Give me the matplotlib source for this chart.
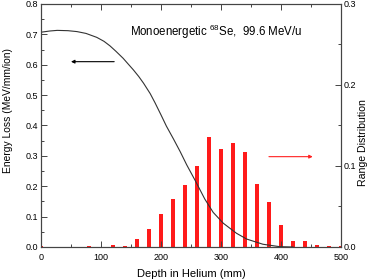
import matplotlib
matplotlib.use("Agg")
import matplotlib.pyplot as plt
from matplotlib.ticker import MultipleLocator

plt.rcParams['font.family'] = ['Liberation Sans', 'DejaVu Sans']
plt.rcParams['mathtext.default'] = 'regular'

# energy loss curve (left axis)
depth_curve = [0, 15, 27, 45, 60, 75, 93, 105, 115, 125, 137, 145, 154, 163, 171,
               182, 190, 200, 209, 221, 232, 243, 257, 273, 287, 304, 326, 343,
               370, 398, 420]
eloss = [0.707, 0.711, 0.713, 0.712, 0.709, 0.703, 0.690, 0.677, 0.662, 0.644,
         0.621, 0.603, 0.583, 0.561, 0.539, 0.505, 0.475, 0.435, 0.398, 0.355,
         0.314, 0.270, 0.219, 0.158, 0.114, 0.078, 0.045, 0.026, 0.009, 0.001, 0.0]

# range distribution bars (right axis)
depth_bins = [0, 80, 120, 140, 160, 180, 200, 220, 240, 260, 280, 300, 320, 340,
              360, 380, 400, 420, 440, 460, 480, 500]
range_dist = [0.0015, 0.001, 0.003, 0.001, 0.0103, 0.0222, 0.0403, 0.0597, 0.0770,
              0.1004, 0.1354, 0.1206, 0.1288, 0.1169, 0.0776, 0.0553, 0.0274,
              0.008, 0.008, 0.002, 0.001, 0.0015]

axcol = '#444444'
fig = plt.figure(figsize=(3.74, 2.8), dpi=100)
ax = fig.add_axes([0.1096, 0.1179, 0.802, 0.868])
ax2 = ax.twinx()

ax2.bar(depth_bins, range_dist, width=5.5, color='#ff1a1a', linewidth=0)
ax.plot(depth_curve, eloss, color='#333333', lw=0.8)
ax.set_zorder(ax2.get_zorder() + 1)
ax.patch.set_visible(False)

ax.set_xlim(0, 500)
ax.set_ylim(0, 0.8)
ax2.set_ylim(0, 0.3)

ax.xaxis.set_major_locator(MultipleLocator(100))
ax.xaxis.set_minor_locator(MultipleLocator(50))
ax.yaxis.set_major_locator(MultipleLocator(0.1))
ax.yaxis.set_minor_locator(MultipleLocator(0.05))
ax2.yaxis.set_major_locator(MultipleLocator(0.1))
ax2.yaxis.set_minor_locator(MultipleLocator(0.05))
ax.yaxis.set_major_formatter(plt.FormatStrFormatter('%.1f'))
ax2.yaxis.set_major_formatter(plt.FormatStrFormatter('%.1f'))

ax.tick_params(which='both', direction='in', top=True, right=False, labelsize=6.5,
               color=axcol, width=0.7, pad=2)
ax.tick_params(axis='x', which='both', pad=4.5)
ax.tick_params(which='major', length=4)
ax.tick_params(which='minor', length=2)
ax2.tick_params(which='both', direction='in', labelsize=6.5, color=axcol, width=0.7, pad=2)
ax2.tick_params(which='major', length=4)
ax2.tick_params(which='minor', length=2)
for a in (ax, ax2):
    for s in a.spines.values():
        s.set_color(axcol)
        s.set_linewidth(0.8)

ax.set_xlabel('Depth in Helium (mm)', fontsize=8, va='center')
ax.xaxis.set_label_coords(0.5, -0.11)
ax.set_ylabel('Energy Loss (MeV/mm/ion)', fontsize=7.4, va='center')
ax.yaxis.set_label_coords(-0.11, 0.56)
ax2.set_ylabel('Range Distribution', fontsize=7.6, va='center')
ax2.yaxis.set_label_coords(1.075, 0.43)

ax.text(148, 0.708, r'Monoenergetic $^{68}$Se,  99.6 MeV/u', fontsize=8.3,
        va='center', ha='left')

ax.annotate('', xy=(50, 0.61), xytext=(122, 0.61),
            arrowprops=dict(arrowstyle='-|>', color='black', lw=0.8,
                            mutation_scale=5, shrinkA=0, shrinkB=0))
ax2.annotate('', xy=(453, 0.1115), xytext=(380, 0.1115),
             arrowprops=dict(arrowstyle='-|>', color='#ff2222', lw=0.8,
                             mutation_scale=5, shrinkA=0, shrinkB=0))

fig.savefig('out.png', dpi=100)
